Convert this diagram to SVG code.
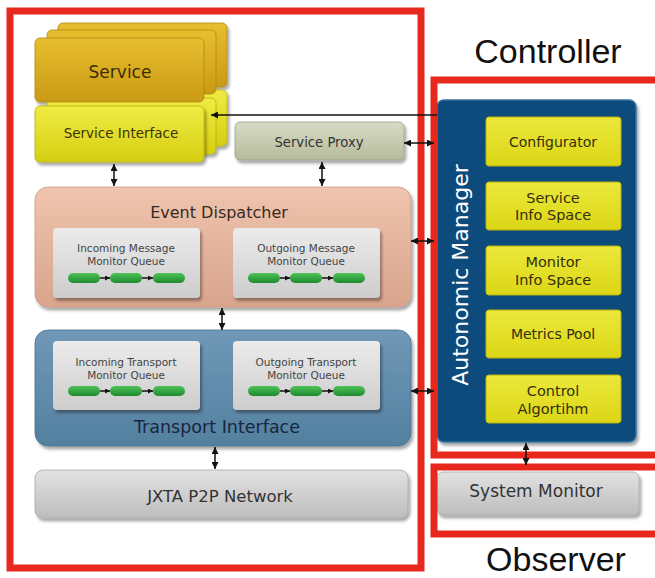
<svg xmlns="http://www.w3.org/2000/svg" width="655" height="578" viewBox="0 0 655 578">
<style>
.lbl{font-family:"DejaVu Sans",Verdana,sans-serif;text-anchor:middle}
.big{font-family:"Liberation Sans",Arial,sans-serif;text-anchor:middle;fill:#111}
.red{fill:none;stroke:#e8281c;stroke-width:7}
.conn{stroke:#111;stroke-width:1.5;fill:none}
.q{fill:url(#gQ)}
.pill{fill:url(#gPill)}
.ybox{fill:url(#gY);stroke:#b9b213;stroke-width:1}
</style>
<defs>
<linearGradient id="gSvc" x1="0" y1="0" x2="0" y2="1"><stop offset="0" stop-color="#e8be30"/><stop offset="1" stop-color="#c99a14"/></linearGradient>
<linearGradient id="gSI" x1="0" y1="0" x2="0" y2="1"><stop offset="0" stop-color="#f0ec44"/><stop offset="1" stop-color="#d6ce12"/></linearGradient>
<linearGradient id="gSP" x1="0" y1="0" x2="0" y2="1"><stop offset="0" stop-color="#d8dbc4"/><stop offset="1" stop-color="#b7bb9c"/></linearGradient>
<linearGradient id="gED" x1="0" y1="0" x2="0" y2="1"><stop offset="0" stop-color="#efc4ae"/><stop offset="1" stop-color="#d9a48c"/></linearGradient>
<linearGradient id="gTI" x1="0" y1="0" x2="0" y2="1"><stop offset="0" stop-color="#7198b8"/><stop offset="1" stop-color="#53809f"/></linearGradient>
<linearGradient id="gG" x1="0" y1="0" x2="0" y2="1"><stop offset="0" stop-color="#e2e2e2"/><stop offset="1" stop-color="#bdbdbd"/></linearGradient>
<linearGradient id="gQ" x1="0" y1="0" x2="0" y2="1"><stop offset="0" stop-color="#ebebeb"/><stop offset="1" stop-color="#cdcdcd"/></linearGradient>
<linearGradient id="gPill" x1="0" y1="0" x2="0" y2="1"><stop offset="0" stop-color="#4fc35a"/><stop offset="1" stop-color="#1e8a2e"/></linearGradient>
<linearGradient id="gY" x1="0" y1="0" x2="0" y2="1"><stop offset="0" stop-color="#ece83a"/><stop offset="1" stop-color="#dcd617"/></linearGradient>
<filter id="sh" x="-10%" y="-10%" width="130%" height="140%"><feDropShadow dx="2" dy="3" stdDeviation="1.5" flood-color="#000" flood-opacity="0.35"/></filter>
<marker id="ah" viewBox="0 0 10 10" refX="10" refY="5" markerWidth="7" markerHeight="7" markerUnits="userSpaceOnUse" orient="auto-start-reverse"><path d="M0,0 L10,5 L0,10 z" fill="#111"/></marker>
<marker id="ahs" viewBox="0 0 10 10" refX="10" refY="5" markerWidth="5" markerHeight="5" markerUnits="userSpaceOnUse" orient="auto"><path d="M0,0 L10,5 L0,10 z" fill="#111"/></marker>
</defs>
<rect width="655" height="578" fill="#fff"/>

<!-- Service stack -->
<g id="service" filter="url(#sh)">
<rect x="58" y="23" width="169" height="64" rx="5" fill="url(#gSvc)" stroke="#b08810" stroke-width="0.8"/>
<rect x="58" y="90" width="169" height="56" rx="5" fill="url(#gSI)" stroke="#b8b010" stroke-width="0.8"/>
<rect x="47" y="30" width="169" height="64" rx="5" fill="url(#gSvc)" stroke="#b08810" stroke-width="0.8"/>
<rect x="47" y="98" width="169" height="56" rx="5" fill="url(#gSI)" stroke="#b8b010" stroke-width="0.8"/>
<rect x="35" y="38" width="169" height="64" rx="5" fill="url(#gSvc)" stroke="#b08810" stroke-width="0.8"/>
</g>
<text class="lbl" x="120" y="78" font-size="17" fill="#3e2c06">Service</text>
<g id="service-interface" filter="url(#sh)">
<rect x="35" y="106" width="169" height="56" rx="5" fill="url(#gSI)" stroke="#b8b010" stroke-width="0.8"/>
</g>
<text class="lbl" x="121" y="138" font-size="13.5" fill="#3a3408">Service Interface</text>

<g id="service-proxy">
<rect x="235" y="122" width="169" height="38" rx="5" fill="url(#gSP)" stroke="#9ea088" stroke-width="0.8" filter="url(#sh)"/>
<text class="lbl" x="319" y="147" font-size="13.2" fill="#333">Service Proxy</text>
</g>

<g id="event-dispatcher">
<rect x="35" y="187" width="376" height="120" rx="13" fill="url(#gED)" stroke="#c89a84" stroke-width="0.8" filter="url(#sh)"/>
<text class="lbl" x="219" y="218" font-size="16" fill="#3a2a22">Event Dispatcher</text>
<rect x="53" y="228" width="147" height="70" rx="4" class="q" filter="url(#sh)"/>
<text class="lbl" x="126" y="252" font-size="10.5" fill="#444">Incoming Message</text>
<text class="lbl" x="126" y="265" font-size="10.5" fill="#444">Monitor Queue</text>
<rect x="68" y="273" width="32" height="10" rx="5" class="pill"/>
<rect x="110" y="273" width="32" height="10" rx="5" class="pill"/>
<rect x="153" y="273" width="32" height="10" rx="5" class="pill"/>
<line x1="100" y1="278" x2="110" y2="278" class="conn" stroke-width="1" marker-end="url(#ahs)"/>
<line x1="142" y1="278" x2="153" y2="278" class="conn" stroke-width="1" marker-end="url(#ahs)"/>
<rect x="233" y="228" width="147" height="70" rx="4" class="q" filter="url(#sh)"/>
<text class="lbl" x="306" y="252" font-size="10.5" fill="#444">Outgoing Message</text>
<text class="lbl" x="306" y="265" font-size="10.5" fill="#444">Monitor Queue</text>
<rect x="248" y="273" width="32" height="10" rx="5" class="pill"/>
<rect x="290" y="273" width="32" height="10" rx="5" class="pill"/>
<rect x="333" y="273" width="32" height="10" rx="5" class="pill"/>
<line x1="280" y1="278" x2="290" y2="278" class="conn" stroke-width="1" marker-end="url(#ahs)"/>
<line x1="322" y1="278" x2="333" y2="278" class="conn" stroke-width="1" marker-end="url(#ahs)"/>
</g>

<g id="transport-interface">
<rect x="35" y="330" width="376" height="116" rx="13" fill="url(#gTI)" stroke="#48708e" stroke-width="0.8" filter="url(#sh)"/>
<rect x="53" y="341" width="147" height="69" rx="4" class="q" filter="url(#sh)"/>
<text class="lbl" x="126" y="366" font-size="10.5" fill="#444">Incoming Transport</text>
<text class="lbl" x="126" y="379" font-size="10.5" fill="#444">Monitor Queue</text>
<rect x="68" y="386" width="32" height="10" rx="5" class="pill"/>
<rect x="110" y="386" width="32" height="10" rx="5" class="pill"/>
<rect x="153" y="386" width="32" height="10" rx="5" class="pill"/>
<line x1="100" y1="391" x2="110" y2="391" class="conn" stroke-width="1" marker-end="url(#ahs)"/>
<line x1="142" y1="391" x2="153" y2="391" class="conn" stroke-width="1" marker-end="url(#ahs)"/>
<rect x="233" y="341" width="147" height="69" rx="4" class="q" filter="url(#sh)"/>
<text class="lbl" x="306" y="366" font-size="10.5" fill="#444">Outgoing Transport</text>
<text class="lbl" x="306" y="379" font-size="10.5" fill="#444">Monitor Queue</text>
<rect x="248" y="386" width="32" height="10" rx="5" class="pill"/>
<rect x="290" y="386" width="32" height="10" rx="5" class="pill"/>
<rect x="333" y="386" width="32" height="10" rx="5" class="pill"/>
<line x1="280" y1="391" x2="290" y2="391" class="conn" stroke-width="1" marker-end="url(#ahs)"/>
<line x1="322" y1="391" x2="333" y2="391" class="conn" stroke-width="1" marker-end="url(#ahs)"/>
<text class="lbl" x="217" y="433" font-size="17.5" fill="#17263e">Transport Interface</text>
</g>

<g id="jxta">
<rect x="35" y="470" width="373" height="48" rx="8" fill="url(#gG)" stroke="#a8a8a8" stroke-width="0.8" filter="url(#sh)"/>
<text class="lbl" x="220" y="502" font-size="16.5" fill="#333">JXTA P2P Network</text>
</g>

<g id="autonomic-manager">
<rect x="437" y="100" width="199" height="342" rx="7" fill="#0f4b7c" stroke="#3572a0" stroke-width="1.5" filter="url(#sh)"/>
<text class="lbl" font-size="22" fill="#fff" transform="translate(468,275) rotate(-90)">Autonomic Manager</text>
<rect x="486" y="117" width="135" height="49" rx="3" class="ybox"/>
<text class="lbl" x="553" y="147" font-size="14" fill="#33300a">Configurator</text>
<rect x="486" y="182" width="135" height="48" rx="3" class="ybox"/>
<text class="lbl" x="553" y="203" font-size="14.5" fill="#33300a">Service</text>
<text class="lbl" x="553" y="220" font-size="14.5" fill="#33300a">Info Space</text>
<rect x="486" y="246" width="135" height="49" rx="3" class="ybox"/>
<text class="lbl" x="553" y="267" font-size="14.5" fill="#33300a">Monitor</text>
<text class="lbl" x="553" y="285" font-size="14.5" fill="#33300a">Info Space</text>
<rect x="486" y="310" width="135" height="48" rx="3" class="ybox"/>
<text class="lbl" x="553" y="339" font-size="14" fill="#33300a">Metrics Pool</text>
<rect x="486" y="375" width="135" height="48" rx="3" class="ybox"/>
<text class="lbl" x="553" y="396" font-size="14.5" fill="#33300a">Control</text>
<text class="lbl" x="553" y="414" font-size="14.5" fill="#33300a">Algortihm</text>
</g>

<g id="system-monitor">
<rect x="437" y="472" width="202" height="43" rx="6" fill="url(#gG)" stroke="#a8a8a8" stroke-width="0.8" filter="url(#sh)"/>
<text class="lbl" x="536" y="497" font-size="17" fill="#333">System Monitor</text>
</g>

<g id="frames">
<rect x="10" y="11" width="411" height="557" class="red"/>
<rect x="434" y="80" width="240" height="375" class="red"/>
<rect x="434" y="467" width="240" height="67" class="red"/>
<text class="big" x="548" y="63" font-size="34">Controller</text>
<text class="big" x="556" y="571" font-size="34">Observer</text>
</g>

<g id="connectors">
<line x1="437" y1="115" x2="211" y2="115" class="conn" marker-end="url(#ah)"/>
<line x1="404" y1="143" x2="434" y2="143" class="conn" marker-start="url(#ah)" marker-end="url(#ah)"/>
<line x1="411" y1="241" x2="434" y2="241" class="conn" marker-start="url(#ah)" marker-end="url(#ah)"/>
<line x1="411" y1="391" x2="434" y2="391" class="conn" marker-start="url(#ah)" marker-end="url(#ah)"/>
<line x1="114" y1="164" x2="114" y2="186" class="conn" marker-start="url(#ah)" marker-end="url(#ah)"/>
<line x1="322" y1="162" x2="322" y2="186" class="conn" marker-start="url(#ah)" marker-end="url(#ah)"/>
<line x1="222" y1="308" x2="222" y2="330" class="conn" marker-start="url(#ah)" marker-end="url(#ah)"/>
<line x1="215" y1="447" x2="215" y2="469" class="conn" marker-start="url(#ah)" marker-end="url(#ah)"/>
<line x1="526" y1="443" x2="526" y2="465" class="conn" marker-start="url(#ah)" marker-end="url(#ah)"/>
</g>
</svg>
